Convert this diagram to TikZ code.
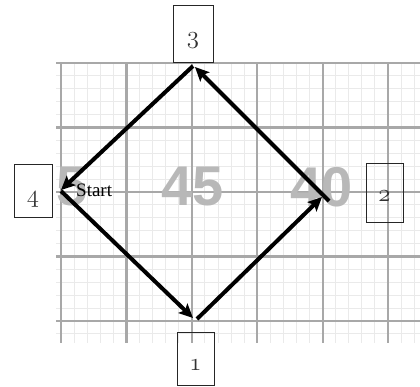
\documentclass[tikz,border=0pt]{standalone}
\usepackage{fontspec}
\newfontfamily\bigsans{Liberation Sans}
\newfontfamily\labelserif{Liberation Serif}
\newcommand{\osdigit}[1]{{\usefont{OML}{cmm}{m}{it}#1}}
\usetikzlibrary{arrows.meta}
\definecolor{majorgrid}{HTML}{A8A8A8}
\definecolor{minorgrid}{HTML}{EAEAEA}
\definecolor{bignum}{HTML}{B8B8B8}
\definecolor{boxtext}{HTML}{333333}
\begin{document}
\begin{tikzpicture}[x=1pt,y=-1pt,
  numbox/.style={draw=black!85, line width=0.9pt, inner sep=0pt, anchor=north,
    text=boxtext, font=\fontsize{24.88}{25}\selectfont, text height=38.5pt},
  pathline/.style={line width=4pt, -{Stealth[length=14pt,width=13pt,inset=3pt]}},
  minorline/.style={draw=minorgrid, line width=0.9pt},
  majorline/.style={draw=majorgrid, line width=2.2pt},
  bignumber/.style={text=bignum, inner sep=0pt, font=\bigsans\bfseries\fontsize{56}{56}\selectfont}]
\useasboundingbox[fill=white] (0,0) rectangle (420,386);
% graph paper
\begin{scope}
  \clip (56,61.5) rectangle (420,343);
  \foreach \k in {-1,...,28} \draw[minorline] ({61+\k*13.08},63) -- ({61+\k*13.08},343);
  \foreach \k in {0,...,22} \draw[minorline] (55,{63+\k*12.9}) -- (420,{63+\k*12.9});
  \foreach \k in {0,...,5} \draw[majorline] ({61+\k*65.4},63) -- ({61+\k*65.4},343);
  \foreach \k in {0,...,4} \draw[majorline] (55,{63+\k*64.5}) -- (420,{63+\k*64.5});
  \node[bignumber] (n5) at (72,187) {5};
  \node[bignumber] (n45) at (193,187) {45};
  \node[bignumber] (n40) at (322,187) {40};
\end{scope}
% corners
\coordinate (p4) at (61,191);
\coordinate (p1in) at (193,318);
\coordinate (p1out) at (197,319);
\coordinate (p2in) at (322,197);
\coordinate (p2out) at (329,201);
\coordinate (p3in) at (195,67);
\coordinate (p3out) at (193,66);
\coordinate (p4in) at (61,190);
\draw[pathline] (p4) -- (p1in);
\draw[pathline] (p1out) -- (p2in);
\draw[pathline] (p2out) -- (p3in);
\draw[pathline] (p3out) -- (p4in);
% boxes
\node[numbox, minimum width=40pt, text depth=18.5pt] (b3) at (193,5) {\osdigit{3}};
\node[numbox, minimum width=38pt, text depth=14.5pt] (b4) at (33,164) {\osdigit{4}};
\node[numbox, minimum width=37pt, text depth=20.5pt] (b2) at (384.5,163) {\osdigit{2}};
\node[numbox, minimum width=37pt, text depth=14.5pt] (b1) at (195.5,332) {\osdigit{1}};
\node[anchor=base west, inner sep=0pt, font=\labelserif\fontsize{19}{19}\selectfont] (start) at (76,196) {Start};
\end{tikzpicture}
\end{document}
